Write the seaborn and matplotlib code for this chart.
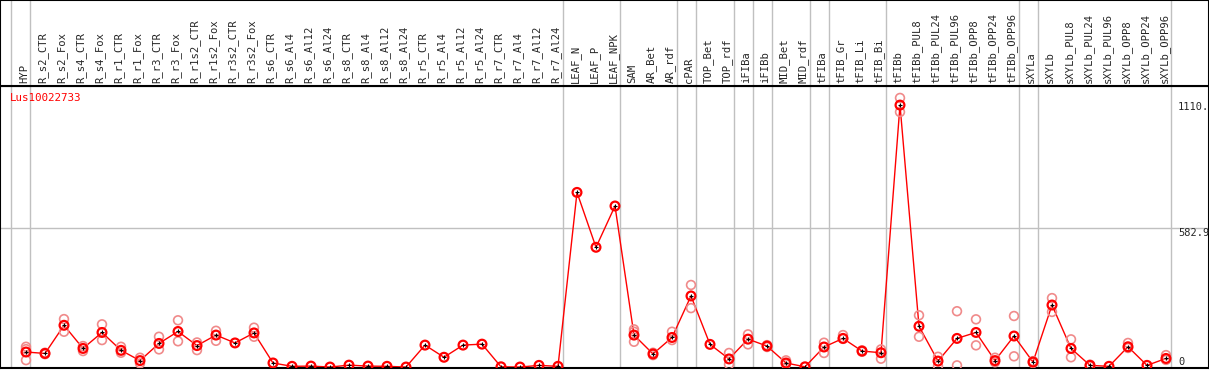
import numpy as np
import pandas as pd
import matplotlib
matplotlib.use("Agg")
import matplotlib.pyplot as plt
import seaborn as sns

# samples along the x axis
samples = [
    "HYP", "R_s2_CTR", "R_s2_Fox", "R_s4_CTR", "R_s4_Fox", "R_r1_CTR", "R_r1_Fox",
    "R_r3_CTR", "R_r3_Fox", "R_r1s2_CTR", "R_r1s2_Fox", "R_r3s2_CTR", "R_r3s2_Fox",
    "R_s6_CTR", "R_s6_Al4", "R_s6_Al12", "R_s6_Al24", "R_s8_CTR", "R_s8_Al4",
    "R_s8_Al12", "R_s8_Al24", "R_r5_CTR", "R_r5_Al4", "R_r5_Al12", "R_r5_Al24",
    "R_r7_CTR", "R_r7_Al4", "R_r7_Al12", "R_r7_Al24", "LEAF_N", "LEAF_P", "LEAF_NPK",
    "SAM", "AR_Bet", "AR_rdf", "cPAR", "TOP_Bet", "TOP_rdf", "iFIBa", "iFIBb",
    "MID_Bet", "MID_rdf", "tFIBa", "tFIB_Gr", "tFIB_Li", "tFIB_Bi", "tFIBb",
    "tFIBb_PUL8", "tFIBb_PUL24", "tFIBb_PUL96", "tFIBb_OPP8", "tFIBb_OPP24",
    "tFIBb_OPP96", "sXYLa", "sXYLb", "sXYLb_PUL8", "sXYLb_PUL24", "sXYLb_PUL96",
    "sXYLb_OPP8", "sXYLb_OPP24", "sXYLb_OPP96",
]

# mean expression per sample
means = [
    63, 57, 175, 78, 145, 70, 27, 99, 149, 90, 134, 101, 143,
    17, 3, 4, 0, 8, 4, 3, 0, 92, 41, 92, 96, 1, 0, 7, 3,
    732, 502, 675, 134, 55, 124, 298, 95, 34, 117, 88, 17, 1,
    84, 120, 67, 60, 1098, 171, 25, 120, 145, 27, 130,
    21, 260, 78, 7, 3, 85, 7, 36,
]

nan = np.nan
# individual replicates (NaN where none are shown)
rep_hi = [
    85, 60, 201, 88, 179, 85, 39, 127, 196, 103, 152, nan, 165,
    nan, nan, nan, nan, nan, nan, nan, nan, nan, nan, nan, nan, nan, nan, nan, nan,
    nan, nan, nan, 158, 60, 148, 344, nan, 59, 137, 92, 28, nan,
    102, 134, 70, 74, 1128, 217, 43, 234, 200, 39, 214,
    25, 289, 116, 10, nan, 101, nan, 50,
]
rep_lo = [
    29, 54, 148, 67, 113, 60, 15, 74, 108, 71, 110, nan, 127,
    nan, nan, nan, nan, nan, nan, nan, nan, nan, nan, nan, nan, nan, nan, nan, nan,
    nan, nan, nan, 106, 50, 113, 247, nan, 11, 95, 84, 12, nan,
    59, 118, 64, 35, 1069, 127, 4, 7, 91, 20, 45,
    17, 231, 41, 4, nan, 80, nan, 30,
]
rep_mid = [
    75, nan, nan, nan, nan, nan, nan, nan, nan, nan, nan, nan, nan,
    nan, nan, nan, nan, nan, nan, nan, nan, nan, nan, nan, nan, nan, nan, nan, nan,
    nan, nan, nan, 148, nan, nan, nan, nan, nan, nan, nan, nan, nan,
    nan, nan, nan, nan, nan, nan, nan, nan, nan, nan, nan,
    nan, nan, nan, nan, nan, nan, nan, nan,
]

# first sample of each group (gray separators)
group_starts = [0, 1, 29, 32, 35, 36, 38, 39, 40, 42, 43, 46, 53, 54, 61]

gene = "Lus10022733"
ytick_vals = [1110, 582.9, 0]
ytick_text = ["1110.", "582.9", "0"]

W, H = 1209, 370
x = np.arange(len(samples))
means_df = pd.DataFrame({"x": x, "value": means})
reps_df = pd.DataFrame({"x": np.tile(x, 3), "value": rep_hi + rep_lo + rep_mid}).dropna()

sns.set_theme(style="white")
plt.rcParams["font.family"] = ["DejaVu Sans Mono", "DejaVu Sans"]

fig = plt.figure(figsize=(W / 100, H / 100), dpi=100)
ax = fig.add_axes([0, 2 / H, 1, 282 / H])
hdr = fig.add_axes([0, 284 / H, 1, 86 / H])

x0 = -26 / 19
x1 = (W - 26) / 19
for a in (ax, hdr):
    a.set_xlim(x0, x1)
    a.set_xticks([])
    a.set_yticks([])
    for b in group_starts:
        a.axvline(b - 0.5 - 5 / 19, color="#c0c0c0", lw=1, zorder=0)
    for s in a.spines.values():
        s.set_color("black")
        s.set_linewidth(1.5)

ax.set_ylim(-4, 1178)
ax.axhline(582.9, color="#c0c0c0", lw=1, zorder=0)

sns.lineplot(data=means_df, x="x", y="value", color="red", lw=1, ax=ax, zorder=2)
sns.scatterplot(data=reps_df, x="x", y="value", marker="o", s=40, facecolors="none",
                edgecolor="#f08a8a", linewidth=1.2, ax=ax, zorder=3)
sns.scatterplot(data=means_df, x="x", y="value", marker="o", s=40, facecolors="none",
                edgecolor="red", linewidth=1.6, ax=ax, zorder=4)
sns.scatterplot(data=means_df, x="x", y="value", marker="+", s=6, color="black",
                linewidth=0.8, ax=ax, zorder=5)
ax.set_xlabel("")
ax.set_ylabel("")
ax.set_xticks([])
ax.set_yticks([])

for v, t in zip(ytick_vals, ytick_text):
    ax.text(1178 / W, v, t, transform=ax.get_yaxis_transform(), fontsize=7.5,
            ha="left", va="bottom" if v == 0 else "top")

fig.text(10 / W, 1 - 98 / H, gene, color="red", fontsize=7.8, va="center", ha="left")

hdr.set_ylim(0, 1)
for i, name in enumerate(samples):
    hdr.text(i - 0.1, 0.03, name, rotation=90, fontsize=7.6, ha="center", va="bottom")

fig.savefig("out.png", dpi=100)
